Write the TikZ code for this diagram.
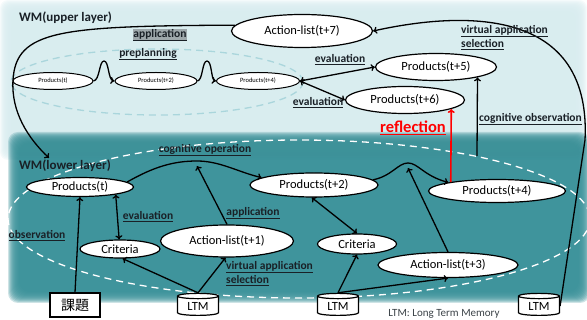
\documentclass[tikz,border=0pt]{standalone}
\usepackage{fontspec}
\setmainfont{Carlito}
\newfontfamily\cjk{Noto Sans CJK JP}
\usetikzlibrary{shapes.geometric,arrows.meta}

\definecolor{upbg}{RGB}{216,236,239}
\definecolor{lowbg}{RGB}{58,145,153}
\definecolor{lbl}{RGB}{25,32,38}
\definecolor{updash}{RGB}{170,214,220}
\definecolor{hilite}{RGB}{158,168,171}
\newcommand{\undl}[1]{\underline{#1}}

\tikzset{
  prod/.style={ellipse,draw,line width=1.2pt,fill=white,inner sep=0pt,font=\fontsize{12.5}{13}\selectfont},
  small/.style={prod,line width=1pt,minimum height=17pt,font=\fontsize{6.5}{7}\selectfont},
  lab/.style={font=\bfseries\fontsize{11.5}{13}\selectfont,text=lbl,inner sep=1pt},
  wm/.style={font=\bfseries\fontsize{13}{14}\selectfont,text=lbl,inner sep=0pt,anchor=west},
  ltm/.style={cylinder,shape border rotate=90,aspect=0.25,draw,line width=1.2pt,fill=white,minimum width=41pt,minimum height=22pt,inner sep=0pt,font=\fontsize{12.5}{13}\selectfont},
  link/.style={line width=1.3pt,-{To[length=4pt,width=7pt]}},
  dlink/.style={line width=1.3pt,{To[length=4pt,width=7pt]}-{To[length=4pt,width=7pt]}},
}

\begin{document}
\begin{tikzpicture}[x=1pt,y=-1pt]
\useasboundingbox (0,0) rectangle (587,320);
% soft backgrounds of the two layers
\foreach \i in {0,...,11} \fill[upbg,opacity=0.25,rounded corners=8pt] (0+\i,0+\i) rectangle (587-\i,160-\i);
\foreach \i in {0,...,11} \fill[lowbg,opacity=0.25,rounded corners=10pt] (8+\i,132+\i) rectangle (590-\i,303-\i);
\draw[updash,line width=1.3pt,dash pattern=on 7pt off 5pt] (157,82) ellipse [x radius=146, y radius=33];
\draw[white,line width=1.3pt,dash pattern=on 7pt off 5pt] (299,219) ellipse [x radius=291, y radius=79];

\node[wm] (wmup) at (19,18) {WM(upper layer)};
\node[wm] (wmlow) at (19,166) {WM(lower layer)};

% upper layer
\node[prod,minimum width=141pt,minimum height=33pt] (act7) at (302,31) {Action-list(t+7)};
\node[small,minimum width=80pt] (up0) at (53,81) {Products(t)};
\node[small,minimum width=82pt] (up2) at (156,81) {Products(t+2)};
\node[small,minimum width=83pt] (up4) at (258,81) {Products(t+4)};
\node[prod,minimum width=121pt,minimum height=27pt] (p5) at (436,67) {Products(t+5)};
\node[prod,minimum width=119pt,minimum height=27pt] (p6) at (405,100) {Products(t+6)};

% lower layer
\node[prod,minimum width=107pt,minimum height=19pt] (lp0) at (80,187) {Products(t)};
\node[prod,minimum width=128pt,minimum height=24pt] (lp2) at (314,185) {Products(t+2)};
\node[prod,minimum width=137pt,minimum height=23pt] (lp4) at (497,191) {Products(t+4)};
\node[prod,minimum width=80pt,minimum height=18pt] (cr1) at (120,249) {Criteria};
\node[prod,minimum width=133pt,minimum height=32pt] (act1) at (227,241) {Action-list(t+1)};
\node[prod,minimum width=79pt,minimum height=20pt] (cr2) at (357,244) {Criteria};
\node[prod,minimum width=140pt,minimum height=25pt] (act3) at (448,265) {Action-list(t+3)};
\node[draw,line width=1.2pt,fill=white,minimum width=50pt,minimum height=24pt,inner sep=0pt,font=\cjk\fontsize{14}{14}\selectfont] (task) at (75,305) {課題};
\node[ltm] (ltm1) at (198,306) {LTM};
\node[ltm] (ltm2) at (338,306) {LTM};
\node[ltm] (ltm3) at (539,306) {LTM};
\node[font=\fontsize{11}{12}\selectfont,text=lbl!85] (key) at (444,314) {LTM: Long Term Memory};

% connectors, upper layer
\coordinate (wmin) at (49,158);
\node[lab,fill=hilite,inner sep=0.5pt] (lapp7) at (160,35) {\undl{application}};
\draw[link] (act7.175) .. controls (60,26) and (16,30) .. (13,80) .. controls (11,112) and (28,138) .. (wmin);
\draw[link] (up0.east) .. controls (100,80) and (99,61) .. (104,61) .. controls (109,61) and (108,80) .. (up2.west);
\draw[link] (up2.east) .. controls (203,80) and (202,61) .. (207,61) .. controls (212,61) and (211,80) .. (up4.west);
\draw[dlink] (up4.east) -- (p5.west);
\draw[dlink] (up4.east) -- (p6.west);
\draw[link] (ltm3.east) -- (585,140) .. controls (592,0) and (450,14) .. (act7.east);
\coordinate (cobs) at (477,156);
\draw[link] (cobs) -- (p5.-14);
\draw[red,line width=1.6pt,-{To[length=4pt,width=7pt]}] (lp4.169) -- (p6.-11);

% connectors, lower layer
\coordinate (pka) at (197,161); \coordinate (apa) at (197,166);
\coordinate (pkb) at (408,163); \coordinate (apb) at (408,168);
\draw[link] (lp0.6) .. controls (155,166) and (175,161) .. (pka) .. controls (220,161) and (238,172) .. (lp2.172);
\draw[link] (lp2.5) .. controls (392,176) and (398,163) .. (pkb) .. controls (418,163) and (424,176) .. (lp4.170);
\draw[link] (act1.north) -- (apa);
\draw[link] (act3.north) -- (apb);
\draw[link] (task.north) -- (lp0.south);
\draw[dlink] (lp0.-12) -- (cr1.95);
\draw[dlink] (lp2.-100) -- (cr2.north);
\draw[link] (ltm1.north) -- (cr1.-75);
\draw[link] (ltm1.north) -- (act1.-95);
\draw[link] (ltm2.north) -- (cr2.south);
\draw[link] (ltm2.north) -- (act3.south);

% labels
\node[lab] (lpre) at (148,54) {\undl{preplanning}};
\node[lab] (lev5) at (340,60) {\undl{evaluation}};
\node[lab] (lev6) at (318,103) {\undl{evaluation}};
\node[lab,anchor=west] (lvas1) at (460,31) {\undl{virtual application}};
\node[lab,anchor=west] (lvas2) at (460,45) {\undl{selection}};
\node[lab,anchor=west] (lcobs) at (478,119) {\undl{cognitive observation}};
\node[font=\bfseries\fontsize{16.5}{18}\selectfont,text=red,inner sep=1pt] (lrefl) at (413,128) {\undl{reflection}};
\node[lab] (lcop) at (205,150) {\undl{cognitive operation}};
\node[lab] (lev1) at (148,217) {\undl{evaluation}};
\node[lab] (lobs) at (37,236) {\undl{observation}};
\node[lab] (lapp1) at (253,213) {\undl{application}};
\node[lab,anchor=west] (lvas3) at (225,267) {\undl{virtual application}};
\node[lab,anchor=west] (lvas4) at (225,281) {\undl{selection}};
\end{tikzpicture}
\end{document}
